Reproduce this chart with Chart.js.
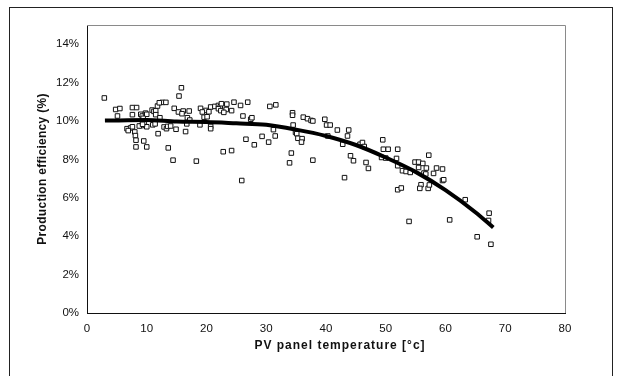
<!DOCTYPE html>
<html>
<head>
<meta charset="utf-8">
<script src="https://cdn.jsdelivr.net/npm/chart.js@4"></script>
<style>
html,body{margin:0;padding:0;background:#fff;overflow:hidden;}
#wrap{position:relative;width:618px;height:376px;}
#frame{position:absolute;left:9px;top:7px;width:604px;height:400px;border:1px solid #222;box-sizing:border-box;}
canvas{position:absolute;left:0;top:0;}
</style>
</head>
<body>
<div id="wrap">
<div id="frame"></div>
<canvas id="c" width="618" height="376"></canvas>
</div>
<script>
const xTitle = "PV panel temperature [\u00b0c]";
const yTitle = "Production efficiency (%)";
const xTicks = [0,10,20,30,40,50,60,70,80];
const yTicks = [0,2,4,6,8,10,12,14];

// measured points: panel temperature (°C)
const tempX = [
2.9,4.8,5.5,5.1,7.6,8.3,7.6,6.7,7.3,7.6,8.0,8.1,8.2,8.2,9.5,10.0,9.0,9.25,9.8,10.0,
9.4,9.1,9.6,10.0,10.9,11.2,11.5,11.8,12.6,13.2,11.5,11.0,11.4,11.9,12.9,13.3,13.5,14.0,14.9,13.6,
14.4,15.8,15.4,14.6,15.3,16.1,15.9,17.1,16.8,17.2,16.7,18.3,16.5,19.0,19.9,19.3,20.4,19.6,20.1,18.9,
20.7,20.7,20.7,21.4,22.0,22.3,22.5,22.0,22.4,23.3,22.9,23.4,24.6,24.2,25.7,26.9,26.1,22.8,24.2,25.9,
27.4,27.6,26.6,28.0,29.3,30.4,31.5,30.6,31.6,33.9,34.2,34.4,34.4,34.5,34.9,35.1,35.3,36.0,35.9,36.2,
36.9,37.5,37.8,37.8,39.8,40.1,40.7,41.9,43.8,40.3,43.6,42.8,44.1,44.6,43.1,45.7,46.1,46.4,46.7,47.1,
49.5,49.6,50.4,52.0,49.3,50.0,51.8,52.0,52.8,53.4,54.1,54.9,55.5,56.2,55.5,57.2,56.4,56.7,58.0,58.5,
59.5,59.5,59.7,57.1,57.3,52.0,52.6,63.3,67.3,67.2,53.9,60.7,65.3,67.6,55.9,55.7,31.2,6.9,12.1,12.2,
56.8,8.75,9.3
];
// measured points: production efficiency (%)
const effY = [
11.2,10.6,10.65,10.26,10.7,10.7,10.33,9.6,9.64,9.7,9.43,9.24,9.0,8.65,8.96,8.65,10.35,10.26,10.41,10.35,
10.14,9.76,9.93,9.7,10.57,10.5,10.53,10.78,10.97,10.97,10.33,9.8,9.85,9.34,9.69,9.6,9.72,9.74,9.57,8.6,
7.96,11.73,11.3,10.66,10.47,10.52,10.38,10.52,10.17,10.05,9.85,7.91,9.45,10.66,10.55,10.47,10.48,10.2,10.22,9.8,
9.72,9.6,10.73,10.76,10.81,10.74,10.9,10.64,10.54,10.6,10.45,10.88,10.98,10.54,10.81,10.98,10.26,8.4,8.46,6.9,
10.09,10.17,9.05,8.76,9.2,8.9,9.22,10.76,10.84,7.82,8.33,10.43,10.3,9.79,9.41,9.34,9.1,9.08,8.9,10.2,
10.12,10.03,10.0,7.96,10.09,9.79,9.79,9.53,9.53,9.22,9.22,8.79,8.19,7.93,7.05,8.79,8.88,8.67,7.84,7.53,
9.02,8.53,8.53,8.53,8.1,8.07,8.05,7.67,7.41,7.37,7.32,7.86,7.86,7.79,7.58,8.22,7.29,7.24,7.27,7.55,
7.5,6.9,6.94,6.49,6.67,6.42,6.51,5.9,5.2,4.82,4.77,4.85,3.97,3.58,6.68,6.49,9.55,9.5,10.95,10.17,
7.55,9.74,9.83
];
// trend line
const trendX = [3,10,15,20,25,30,35,40,45,50,55,60,65,68];
const trendY = [10.02,10.05,9.97,9.95,9.88,9.8,9.55,9.22,8.75,8.1,7.35,6.4,5.25,4.45];

const pts = tempX.map((x,i)=>({x:x, y:effY[i]}));
const trend = trendX.map((x,i)=>({x:x, y:trendY[i]}));

const FONT = "'Liberation Sans', Arial, sans-serif";

const framePlugin = {
  id:'framePlugin',
  beforeDatasetsDraw(chart){
    const {ctx, chartArea:a} = chart;
    ctx.save();
    ctx.strokeStyle = '#8a8a8a';
    ctx.lineWidth = 1;
    ctx.beginPath();
    ctx.moveTo(a.left, a.top+0.5);
    ctx.lineTo(a.right+0.5, a.top+0.5);
    ctx.lineTo(a.right+0.5, a.bottom);
    ctx.stroke();
    ctx.restore();
  },
  afterDraw(chart){
    const {ctx, chartArea:a} = chart;
    ctx.save();
    ctx.fillStyle = '#111';
    ctx.textAlign = 'center';
    ctx.textBaseline = 'middle';
    ctx.font = "bold 12px " + FONT;
    ctx.letterSpacing = '1px';
    ctx.fillText(xTitle, (a.left+a.right)/2 + 14, 346);
    ctx.letterSpacing = '0.3px';
    ctx.translate(43, (a.top+a.bottom)/2);
    ctx.rotate(-Math.PI/2);
    ctx.fillText(yTitle, 0, 0);
    ctx.restore();
  }
};

new Chart(document.getElementById('c'), {
  type:'scatter',
  data:{
    datasets:[
      {
        type:'line',
        label:'trend',
        data:trend,
        borderColor:'#000',
        borderWidth:4,
        pointRadius:0,
        fill:false,
        tension:0.4,
        cubicInterpolationMode:'monotone',
        order:0
      },
      {
        label:'measured',
        data:pts,
        pointStyle:'rect',
        pointRadius:3.2,
        pointBorderWidth:1,
        pointBorderColor:'#111',
        pointBackgroundColor:'#fff',
        order:1
      }
    ]
  },
  options:{
    responsive:false,
    animation:false,
    devicePixelRatio:1,
    layout:{padding:{left:0, top:25, right:53, bottom:0}},
    plugins:{legend:{display:false}, tooltip:{enabled:false}},
    scales:{
      x:{
        type:'linear',
        min:xTicks[0], max:xTicks[xTicks.length-1],
        afterBuildTicks(s){ s.ticks = xTicks.map(v=>({value:v})); },
        afterFit(s){ s.height = 63; },
        grid:{display:false},
        border:{display:true, color:'#111', width:1},
        ticks:{color:'#111', font:{family:FONT, size:11.5}, padding:1, maxRotation:0}
      },
      y:{
        type:'linear',
        min:0, max:15,
        afterBuildTicks(s){ s.ticks = yTicks.map(v=>({value:v})); },
        afterFit(s){ s.width = 87; },
        grid:{display:false},
        border:{display:true, color:'#111', width:1},
        ticks:{color:'#111', font:{family:FONT, size:11.5}, padding:0, callback:v=>v+'%'}
      }
    }
  },
  plugins:[framePlugin]
});
</script>
</body>
</html>
